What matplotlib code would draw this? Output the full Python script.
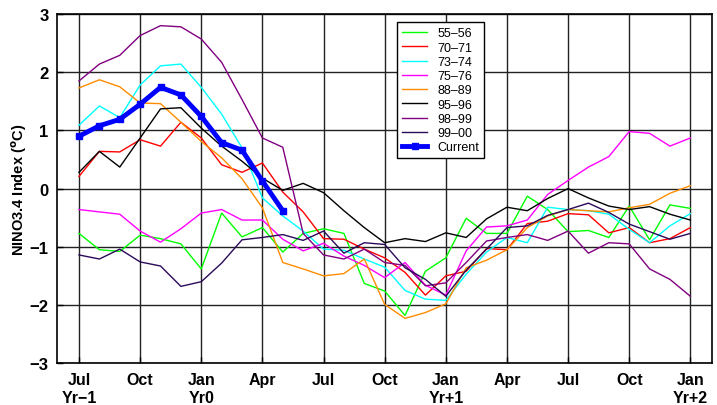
import matplotlib
matplotlib.use("Agg")
import matplotlib.pyplot as plt

plt.rcParams['font.family'] = ['Liberation Sans', 'DejaVu Sans']

# months from Jul Yr-1 (0) to Jan Yr+2 (30)
months = list(range(31))
tick_pos = [0, 3, 6, 9, 12, 15, 18, 21, 24, 27, 30]
tick_labels = ['Jul\nYr\u22121', 'Oct', 'Jan\nYr0', 'Apr', 'Jul', 'Oct',
               'Jan\nYr+1', 'Apr', 'Jul', 'Oct', 'Jan\nYr+2']

y55 = [-0.77, -1.05, -1.08, -0.80, -0.86, -0.95, -1.38, -0.42, -0.83, -0.67, -1.09,
       -0.77, -0.69, -0.77, -1.63, -1.76, -2.18, -1.42, -1.19, -0.51, -0.77,
       -0.77, -0.13, -0.36, -0.74, -0.72, -0.84, -0.30, -0.88, -0.28, -0.34]
y70 = [0.21, 0.64, 0.63, 0.84, 0.73, 1.14, 0.87, 0.41, 0.28, 0.44, -0.06,
       -0.40, -0.86, -0.87, -1.04, -1.19, -1.44, -1.83, -1.50, -1.42, -1.03,
       -1.05, -0.60, -0.56, -0.43, -0.45, -0.76, -0.67, -0.93, -0.86, -0.67]
y73 = [1.09, 1.42, 1.22, 1.78, 2.11, 2.14, 1.74, 1.28, 0.70, -0.16, -0.47,
       -0.73, -1.04, -1.06, -1.21, -1.35, -1.75, -1.90, -1.92, -1.47, -1.09,
       -0.84, -0.93, -0.32, -0.36, -0.38, -0.44, -0.70, -0.93, -0.64, -0.43]
y75 = [-0.36, -0.40, -0.44, -0.73, -0.92, -0.69, -0.42, -0.36, -0.54, -0.54, -0.87,
       -1.07, -0.94, -1.16, -1.32, -1.53, -1.27, -1.66, -1.83, -1.07, -0.66,
       -0.64, -0.54, -0.10, 0.14, 0.37, 0.55, 0.98, 0.95, 0.73, 0.87]
y88 = [1.73, 1.87, 1.75, 1.47, 1.46, 1.14, 0.81, 0.53, 0.17, -0.33, -1.27,
       -1.38, -1.50, -1.46, -1.21, -1.99, -2.23, -2.13, -1.98, -1.36, -1.23,
       -1.05, -0.67, -0.47, -0.36, -0.38, -0.40, -0.33, -0.27, -0.08, 0.05]
y95 = [0.28, 0.64, 0.37, 0.87, 1.37, 1.39, 1.04, 0.73, 0.47, 0.18, -0.03,
       0.09, -0.07, -0.38, -0.67, -0.93, -0.86, -0.91, -0.76, -0.84, -0.52,
       -0.32, -0.38, -0.17, 0.00, -0.16, -0.30, -0.36, -0.31, -0.44, -0.54]
y98 = [1.85, 2.14, 2.29, 2.63, 2.80, 2.78, 2.57, 2.17, 1.53, 0.87, 0.71,
       -0.77, -1.14, -1.21, -1.04, -1.27, -1.32, -1.67, -1.62, -1.27, -0.90,
       -0.84, -0.79, -0.89, -0.73, -1.11, -0.93, -0.95, -1.38, -1.56, -1.85]
y99 = [-1.14, -1.21, -1.04, -1.26, -1.33, -1.68, -1.60, -1.28, -0.88, -0.84, -0.79,
       -0.89, -0.73, -1.11, -0.93, -0.96, -1.36, -1.56, -1.85, -1.40, -1.04,
       -0.67, -0.64, -0.46, -0.36, -0.25, -0.41, -0.61, -0.74, -0.87, -0.77]
current = [0.90, 1.08, 1.19, 1.45, 1.74, 1.61, 1.24, 0.79, 0.66, 0.13, -0.38]

series = [
    ('55\u201356', y55, '#00ff00'),
    ('70\u201371', y70, '#ff0000'),
    ('73\u201374', y73, '#00ffff'),
    ('75\u201376', y75, '#ff00ff'),
    ('88\u201389', y88, '#ff8c00'),
    ('95\u201396', y95, '#000000'),
    ('98\u201399', y98, '#800080'),
    ('99\u201300', y99, '#2a0a5a'),
]

fig = plt.figure(figsize=(7.17, 4.06), dpi=100)
ax = fig.add_axes([0.0795, 0.103, 0.914, 0.860])

for name, vals, col in series:
    ax.plot(months, vals, color=col, lw=1.0, label=name)
ax.plot(months[:len(current)], current, color='#0000ff', lw=3.5,
        marker='s', ms=5, label='Current')

ax.set_xlim(-1.08, 31.08)
ax.set_ylim(-3, 3)
ax.set_xticks(tick_pos)
ax.set_xticklabels(tick_labels, fontweight='bold', fontsize=11.5, linespacing=1.3)
ax.set_yticks(range(-3, 4))
ax.set_yticklabels([str(v).replace('-', '\u2212') for v in range(-3, 4)],
                   fontweight='bold', fontsize=12)
ax.tick_params(direction='in', length=4, width=1, pad=6)
ax.grid(True, color='#222222', lw=1.0)
for s in ax.spines.values():
    s.set_linewidth(1.2)
ax.set_ylabel(r'NINO3.4 Index ($\mathbf{^{o}}$C)', fontweight='bold', fontsize=10.5)
ax.yaxis.set_label_coords(-0.043, 0.5)

leg = ax.legend(loc='upper left', bbox_to_anchor=(0.519, 0.976), fontsize=9,
                frameon=True, fancybox=False, edgecolor='black', framealpha=1,
                handlelength=2.0, labelspacing=0.18, borderpad=0.4,
                handletextpad=0.8, borderaxespad=0)
leg.get_frame().set_linewidth(1.0)

fig.savefig('out.png', dpi=100)
